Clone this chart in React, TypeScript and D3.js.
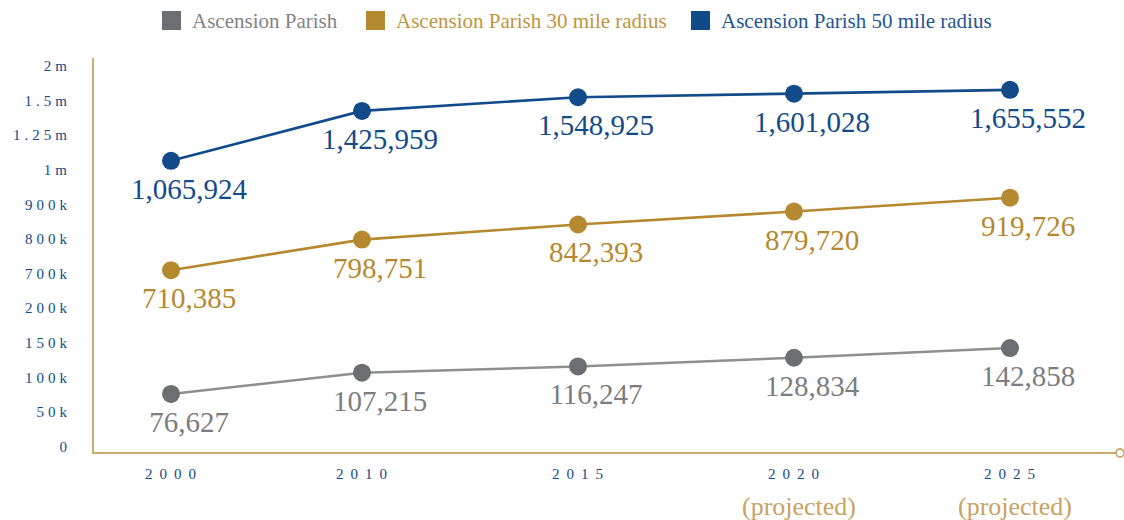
import React, { useEffect } from "react";
import * as d3 from "d3";

const years = [2000, 2010, 2015, 2020, 2025];
const yearNotes = ["", "", "", "(projected)", "(projected)"];
const parish = [76627, 107215, 116247, 128834, 142858];
const radius30 = [710385, 798751, 842393, 879720, 919726];
const radius50 = [1065924, 1425959, 1548925, 1601028, 1655552];
const tickValues = [0, 50000, 100000, 150000, 200000, 700000, 800000, 900000, 1000000, 1250000, 1500000, 2000000];
const tickLabels = ["0", "50k", "100k", "150k", "200k", "700k", "800k", "900k", "1m", "1.25m", "1.5m", "2m"];
const seriesNames = ["Ascension Parish", "Ascension Parish 30 mile radius", "Ascension Parish 50 mile radius"];

const W = 1124;
const H = 520;
const FONT = "'Liberation Serif', 'DejaVu Serif', serif";
const AXIS = "#cdab6b";
const BLUE = "#134b8a";

const series = [
  { name: seriesNames[0], values: parish, dot: "#6d6e71", line: "#8e8f92", label: "#7c7d80", swatch: "#6d6e71", text: "#828386" },
  { name: seriesNames[1], values: radius30, dot: "#b5892f", line: "#b5892f", label: "#b5892f", swatch: "#b5892f", text: "#c09540" },
  { name: seriesNames[2], values: radius50, dot: "#134b8a", line: "#134b8a", label: "#134b8a", swatch: "#0f4a89", text: "#1f5594" },
];

export default function App() {
  useEffect(() => {
    document.body.style.margin = "0";
  }, []);

  // axis is broken after 2010 (wider spacing for the first decade)
  const x = d3.scaleLinear().domain([2000, 2010, 2025]).range([171, 362, 1010]);
  const yTop = 66;
  const yBottom = 447;
  const step = (yBottom - yTop) / (tickValues.length - 1);
  const y = d3
    .scaleLinear()
    .domain(tickValues)
    .range(tickValues.map((_, i) => yBottom - i * step));

  const line = d3
    .line<number>()
    .x((_, i) => x(years[i]))
    .y((d) => y(d));

  const fmt = d3.format(",");

  const legendX = [162, 366, 691];

  return (
    <svg width={W} height={H} style={{ display: "block", fontFamily: FONT }}>
      {/* legend */}
      {series.map((s, i) => (
        <g key={s.name} transform={`translate(${legendX[i]},0)`}>
          <rect x={0} y={11} width={19} height={19} fill={s.swatch} />
          <text x={30} y={28} fontSize={21} fill={s.text}>
            {s.name}
          </text>
        </g>
      ))}

      {/* axes */}
      <line x1={93} y1={58} x2={93} y2={453} stroke={AXIS} strokeWidth={2} />
      <line x1={92} y1={453} x2={1116} y2={453} stroke={AXIS} strokeWidth={2} />
      <circle cx={1120} cy={453} r={4} fill="white" stroke={AXIS} strokeWidth={1.8} />

      {/* y ticks */}
      {tickValues.map((v, i) => (
        <text
          key={v}
          x={71}
          y={y(v) + 5}
          textAnchor="end"
          fontSize={15}
          letterSpacing={4}
          fill={BLUE}
        >
          {tickLabels[i]}
        </text>
      ))}

      {/* x ticks */}
      {years.map((yr, i) => (
        <g key={yr}>
          <text
            x={x(yr) + 3}
            y={479}
            textAnchor="middle"
            fontSize={15}
            letterSpacing={7}
            fill={BLUE}
          >
            {String(yr)}
          </text>
          {yearNotes[i] && (
            <text x={x(yr) + 5} y={515} textAnchor="middle" fontSize={26} fill="#c9a25f">
              {yearNotes[i]}
            </text>
          )}
        </g>
      ))}

      {/* series */}
      {series.map((s) => (
        <g key={s.name}>
          <path d={line(s.values) || ""} fill="none" stroke={s.line} strokeWidth={2.6} />
          {s.values.map((v, i) => (
            <circle key={i} cx={x(years[i])} cy={y(v)} r={9} fill={s.dot} />
          ))}
          {s.values.map((v, i) => (
            <text
              key={"t" + i}
              x={x(years[i]) + 18}
              y={y(v) + 38}
              textAnchor="middle"
              fontSize={29}
              fill={s.label}
            >
              {fmt(v)}
            </text>
          ))}
        </g>
      ))}
    </svg>
  );
}
